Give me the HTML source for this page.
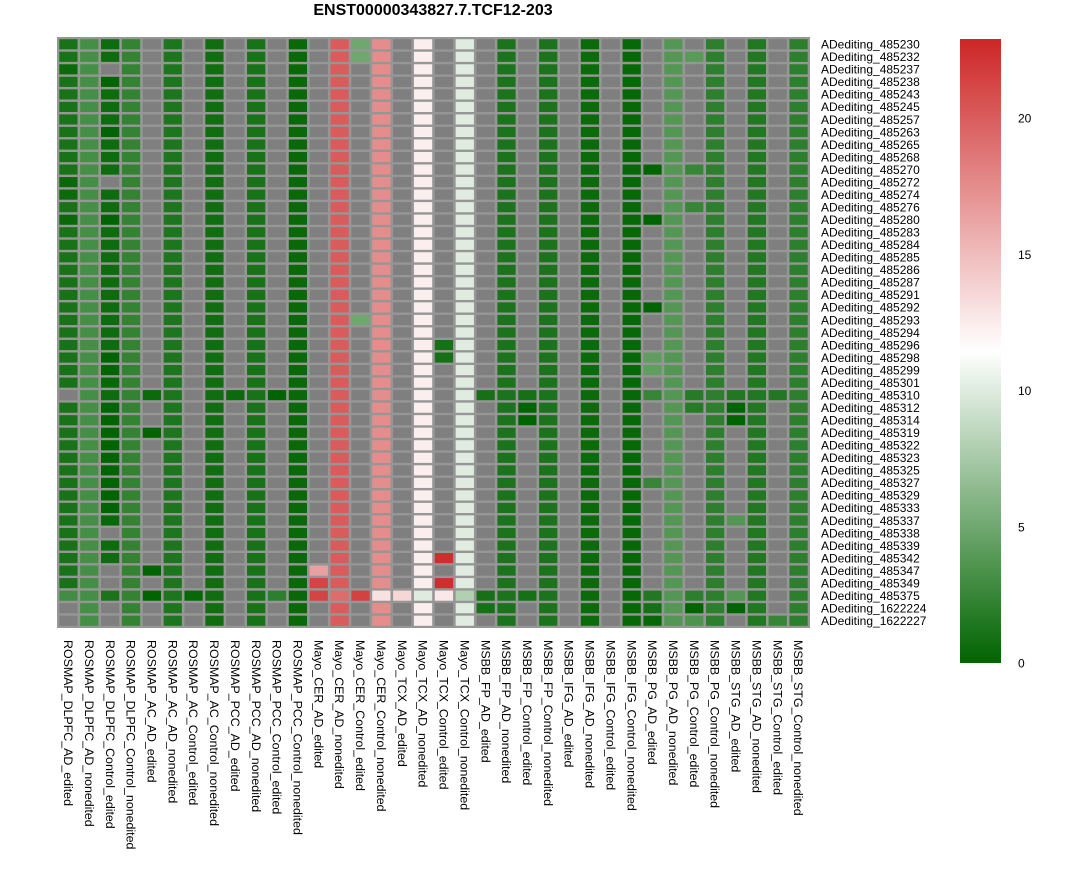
<!DOCTYPE html>
<html><head><meta charset="utf-8"><style>
body{margin:0;background:#fff;width:1066px;height:878px;overflow:hidden;font-family:"Liberation Sans",sans-serif}
svg text{font-family:"Liberation Sans",sans-serif}
</style></head><body>
<svg id="chart" width="1066" height="878" xmlns="http://www.w3.org/2000/svg">
<text x="433" y="15" text-anchor="middle" font-size="16" font-weight="bold">ENST00000343827.7.TCF12-203</text>
<g id="cells"></g>
<g id="rowlabels"></g>
<g id="collabels"></g>
<defs><linearGradient id="lg" x1="0" y1="1" x2="0" y2="0">
<stop offset="0" stop-color="#006400"/><stop offset="0.5" stop-color="#ffffff"/><stop offset="1" stop-color="#cd2626"/></linearGradient></defs>
<rect x="960" y="39" width="41" height="624" fill="url(#lg)"/>
<g id="legticks"></g>
</svg>
<script>
const columns=["ROSMAP_DLPFC_AD_edited","ROSMAP_DLPFC_AD_nonedited","ROSMAP_DLPFC_Control_edited","ROSMAP_DLPFC_Control_nonedited","ROSMAP_AC_AD_edited","ROSMAP_AC_AD_nonedited","ROSMAP_AC_Control_edited","ROSMAP_AC_Control_nonedited","ROSMAP_PCC_AD_edited","ROSMAP_PCC_AD_nonedited","ROSMAP_PCC_Control_edited","ROSMAP_PCC_Control_nonedited","Mayo_CER_AD_edited","Mayo_CER_AD_nonedited","Mayo_CER_Control_edited","Mayo_CER_Control_nonedited","Mayo_TCX_AD_edited","Mayo_TCX_AD_nonedited","Mayo_TCX_Control_edited","Mayo_TCX_Control_nonedited","MSBB_FP_AD_edited","MSBB_FP_AD_nonedited","MSBB_FP_Control_edited","MSBB_FP_Control_nonedited","MSBB_IFG_AD_edited","MSBB_IFG_AD_nonedited","MSBB_IFG_Control_edited","MSBB_IFG_Control_nonedited","MSBB_PG_AD_edited","MSBB_PG_AD_nonedited","MSBB_PG_Control_edited","MSBB_PG_Control_nonedited","MSBB_STG_AD_edited","MSBB_STG_AD_nonedited","MSBB_STG_Control_edited","MSBB_STG_Control_nonedited"];
const rows=["ADediting_485230","ADediting_485232","ADediting_485237","ADediting_485238","ADediting_485243","ADediting_485245","ADediting_485257","ADediting_485263","ADediting_485265","ADediting_485268","ADediting_485270","ADediting_485272","ADediting_485274","ADediting_485276","ADediting_485280","ADediting_485283","ADediting_485284","ADediting_485285","ADediting_485286","ADediting_485287","ADediting_485291","ADediting_485292","ADediting_485293","ADediting_485294","ADediting_485296","ADediting_485298","ADediting_485299","ADediting_485301","ADediting_485310","ADediting_485312","ADediting_485314","ADediting_485319","ADediting_485322","ADediting_485323","ADediting_485325","ADediting_485327","ADediting_485329","ADediting_485333","ADediting_485337","ADediting_485338","ADediting_485339","ADediting_485342","ADediting_485347","ADediting_485349","ADediting_485375","ADediting_1622224","ADediting_1622227"];
// typical value per column (null = NA)
const colBase=[1.1,3.1,0.6,2.3,null,1.3,null,0.7,null,1.1,null,0.4,null,20.1,null,17.5,null,12.4,null,10.1,null,1.2,null,1.2,null,0.5,null,0.3,null,3.8,null,2.0,null,1.5,null,2.0];
// exceptions: [row, col, value]
const exceptions=[[2,2,null],[3,2,0],[7,2,0],[11,2,null],[14,2,0],[2,0,0.5],[11,0,0.4],[12,0,0.5],[14,0,0.4],
[0,14,5],[1,14,5],[22,14,5],
[10,28,0],[14,28,0],[21,28,0],[1,30,4],[10,30,2.5],[13,30,2.5],
[28,0,null],[44,0,3],[45,0,null],[46,0,null],
[25,2,0],[26,2,0],[27,2,0.3],[29,2,0],[30,2,0],[31,2,0],[32,2,0],[33,2,0],[34,2,0],[35,2,0],[36,2,0],[37,2,0],[38,2,0.3],[39,2,null],[42,2,null],[43,2,null],[44,2,1.2],[45,2,null],[46,2,null],
[28,4,0.5],[31,4,0],[42,4,0],[44,4,0],[44,6,0.3],[28,8,0.5],[28,10,0],[44,10,2],
[42,12,16.5],[43,12,21.3],[44,12,21.3],[44,13,19.2],[44,14,21.5],[44,15,13.1],[44,16,13.6],[44,17,10],
[24,18,1],[25,18,1],[41,18,22.5],[43,18,22.5],[44,18,12.7],[44,19,8],
[28,20,1],[44,20,1],[45,20,1],[28,22,1],[29,22,0],[30,22,0],[44,22,1],
[25,28,4.3],[26,28,4.3],[28,28,2.5],[35,28,2.5],[44,28,1.5],[45,28,1],[46,28,0.3],
[28,30,1.7],[29,30,1.7],[44,30,2],[45,30,0],[46,30,3.5],
[28,32,1.5],[29,32,0],[30,32,0],[38,32,3.8],[44,32,3.8],[45,32,0],[28,34,1.5],[46,34,2.5]];
const legendTicks=[0,5,10,15,20];

const NS="http://www.w3.org/2000/svg";
const X0=58,X1=809,Y0=38,Y1=627,VMAX=22.9,VMID=11.5;
const cw=(X1-X0)/columns.length, rh=(Y1-Y0)/rows.length;
const xs=c=>X0+c*cw, ys=r=>Y0+r*rh;
function color(v){
  let a,b,t;
  if(v<=VMID){a=[0,100,0];b=[255,255,255];t=v/VMID;}else{a=[255,255,255];b=[205,38,38];t=(v-VMID)/(VMAX-VMID);}
  t=Math.max(0,Math.min(1,t));
  return `rgb(${a.map((x,i)=>Math.round(x+(b[i]-x)*t)).join(',')})`;
}
const vals=rows.map(()=>colBase.slice());
exceptions.forEach(([r,c,v])=>{vals[r][c]=v;});
const cells=document.getElementById('cells');
const bg=document.createElementNS(NS,'rect');
bg.setAttribute('x',X0-1);bg.setAttribute('y',Y0-1);bg.setAttribute('width',X1-X0+2);bg.setAttribute('height',Y1-Y0+2);bg.setAttribute('fill','#969696');


cells.appendChild(bg);
vals.forEach((row,r)=>row.forEach((v,c)=>{
  const el=document.createElementNS(NS,'rect');
  el.setAttribute('x',(xs(c)+1.3).toFixed(2));el.setAttribute('y',(ys(r)+1.2).toFixed(2));
  el.setAttribute('width',(cw-2.6).toFixed(2));el.setAttribute('height',(rh-2.4).toFixed(2));
  el.setAttribute('fill',v==null?'#7f7f7f':color(v));
  
  
  cells.appendChild(el);
}));
const rl=document.getElementById('rowlabels');
rows.forEach((n,r)=>{
  const t=document.createElementNS(NS,'text');
  t.setAttribute('x',821);t.setAttribute('y',(ys(r)+rh/2+4.3).toFixed(1));t.setAttribute('font-size','12');
  t.textContent=n;
  
  
  rl.appendChild(t);
});
const cl=document.getElementById('collabels');
columns.forEach((n,c)=>{
  const t=document.createElementNS(NS,'text');
  const x=xs(c)+cw/2-4.4, y=640;
  t.setAttribute('transform',`translate(${x.toFixed(1)},${y}) rotate(90)`);t.setAttribute('font-size','12.4');
  t.textContent=n;
  
  
  cl.appendChild(t);
});
const lt=document.getElementById('legticks');
legendTicks.forEach(v=>{
  const t=document.createElementNS(NS,'text');
  t.setAttribute('x',1018);t.setAttribute('y',(663-v*(624/VMAX)+4.5).toFixed(1));t.setAttribute('font-size','12');
  t.textContent=v;
  
  
  lt.appendChild(t);
});
</script>
</body></html>
